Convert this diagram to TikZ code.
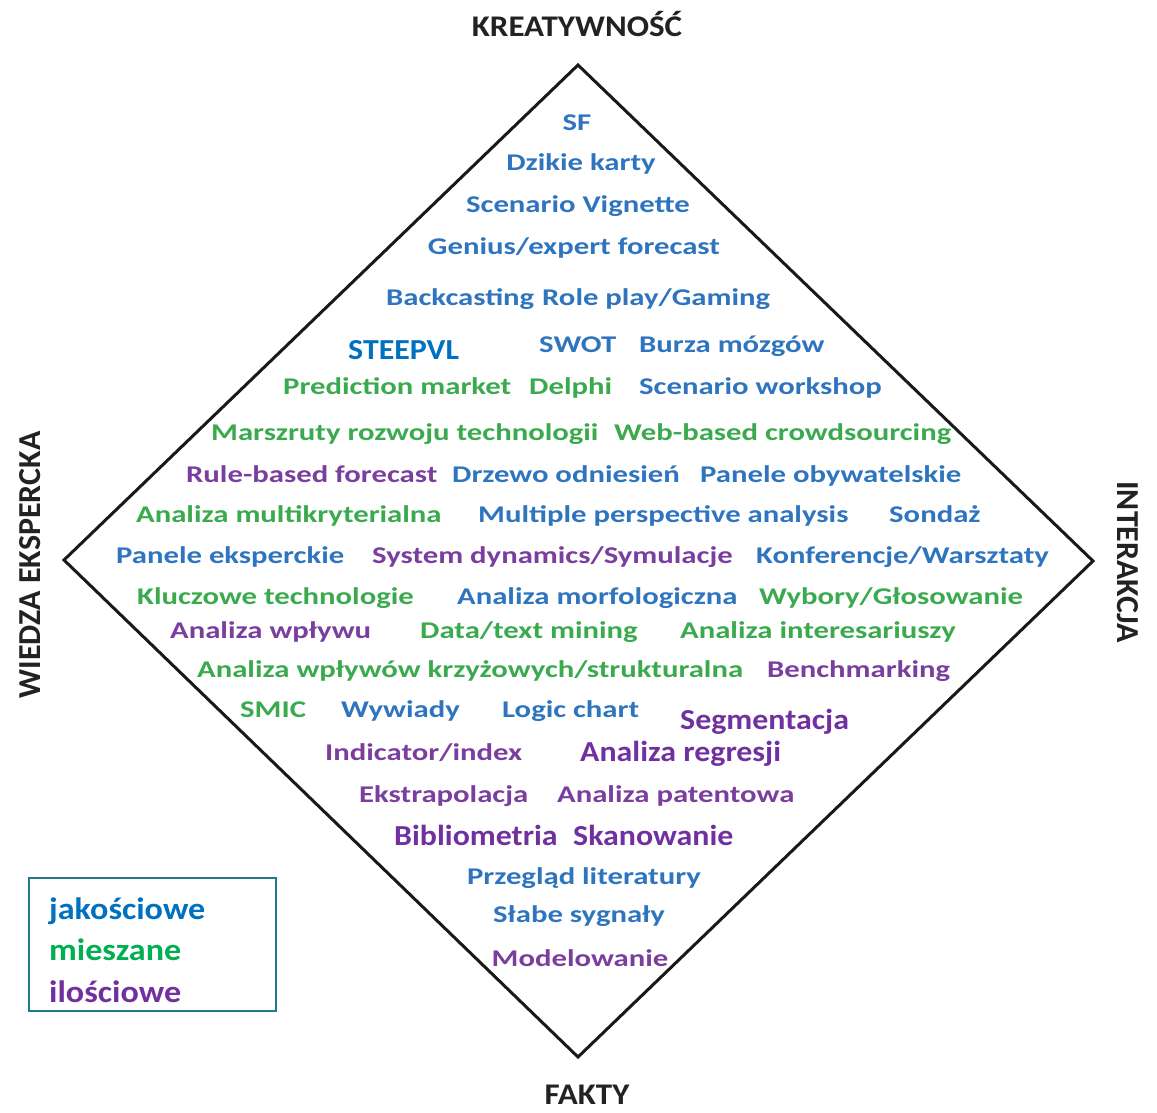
\documentclass[tikz,border=0pt]{standalone}
\usepackage{fontspec}
\setmainfont{Carlito}
% widened cuts of the same family for the different text groups
\newfontfamily\itemfont[FakeStretch=1.28]{Carlito}
\newfontfamily\strongfont[FakeStretch=1.1]{Carlito}
\newfontfamily\axisfont[FakeStretch=1.1]{Carlito}
\newfontfamily\legendfont[FakeStretch=1.1]{Carlito}
\definecolor{qualblue}{HTML}{2F74BE}
\definecolor{mixgreen}{HTML}{3BAA4E}
\definecolor{quantpurple}{HTML}{7A3E9E}
\definecolor{legblue}{HTML}{0070C0}
\definecolor{leggreen}{HTML}{00B050}
\definecolor{legpurple}{HTML}{7030A0}
\definecolor{legframe}{HTML}{1F7A8C}
\definecolor{axistext}{HTML}{222222}
\tikzset{
  item/.style={anchor=base west, inner sep=0pt, font=\itemfont\fontsize{24}{27}\selectfont\bfseries},
  citem/.style={item, anchor=base},
  qual/.style={text=qualblue},
  mix/.style={text=mixgreen},
  quant/.style={text=quantpurple},
  strongblue/.style={text=legblue, font=\strongfont\fontsize{29}{32}\selectfont\bfseries},
  strongpurple/.style={text=legpurple, font=\strongfont\fontsize{29}{32}\selectfont\bfseries},
  axis/.style={inner sep=0pt, text=axistext, font=\axisfont\fontsize{30}{33}\selectfont\bfseries},
  vaxis/.style={inner sep=0pt, text=axistext, font=\fontsize{32}{35}\selectfont\bfseries},
  legend/.style={anchor=base west, inner sep=0pt, font=\legendfont\fontsize{31}{34}\selectfont\bfseries},
}
\begin{document}
\begin{tikzpicture}[x=1pt, y=-1pt]
\useasboundingbox (0,0) rectangle (1157,1112);

% frame of the diamond
\coordinate (top) at (578,65);
\coordinate (right) at (1093,561);
\coordinate (bottom) at (578,1057);
\coordinate (left) at (64,560);
\draw[line width=3pt, line join=miter, black!90] (top) -- (right) -- (bottom) -- (left) -- cycle;

% axis labels
\node[axis] (kre) at (577,24) {KREATYWNOŚĆ};
\node[axis, anchor=base] (fak) at (587,1104) {FAKTY};
\node[vaxis, rotate=90] (wie) at (30,565) {WIEDZA EKSPERCKA};
\node[vaxis, rotate=-90] (int) at (1128,562) {INTERAKCJA};

% methods
\node[citem, qual] (sf) at (577,130) {SF};
\node[citem, qual] (dzk) at (581,170) {Dzikie karty};
\node[citem, qual] (vig) at (578,212) {Scenario Vignette};
\node[citem, qual] (gen) at (574,254) {Genius/expert forecast};

\node[item, qual] (bck) at (386,305) {Backcasting};
\node[item, qual] (rol) at (542,305) {Role play/Gaming};

\node[item, strongblue] (stp) at (348,359) {STEEPVL};
\node[item, qual] (swt) at (539,352) {SWOT};
\node[item, qual] (brz) at (639,352) {Burza mózgów};

\node[item, mix] (prd) at (283,394) {Prediction market};
\node[item, mix] (dlp) at (529,394) {Delphi};
\node[item, qual] (scw) at (639,394) {Scenario workshop};

\node[item, mix] (msz) at (211,440) {Marszruty rozwoju technologii};
\node[item, mix] (web) at (614,440) {Web-based crowdsourcing};

\node[item, quant] (rul) at (186,482) {Rule-based forecast};
\node[item, qual] (drz) at (452,482) {Drzewo odniesień};
\node[item, qual] (pob) at (700,482) {Panele obywatelskie};

\node[item, mix] (amk) at (136,522) {Analiza multikryterialna};
\node[item, qual] (mpa) at (478,522) {Multiple perspective analysis};
\node[item, qual] (snd) at (889,522) {Sondaż};

\node[item, qual] (pek) at (116,563) {Panele eksperckie};
\node[item, quant] (sds) at (372,563) {System dynamics/Symulacje};
\node[item, qual] (knf) at (756,563) {Konferencje/Warsztaty};

\node[item, mix] (klt) at (137,604) {Kluczowe technologie};
\node[item, qual] (amf) at (457,604) {Analiza morfologiczna};
\node[item, mix] (wyb) at (759,604) {Wybory/Głosowanie};

\node[item, quant] (awp) at (170,638) {Analiza wpływu};
\node[item, mix] (dtm) at (420,638) {Data/text mining};
\node[item, mix] (ain) at (680,638) {Analiza interesariuszy};

\node[item, mix] (awk) at (197,677) {Analiza wpływów krzyżowych/strukturalna};
\node[item, quant] (bnc) at (767,677) {Benchmarking};

\node[item, mix] (smc) at (240,717) {SMIC};
\node[item, qual] (wyw) at (341,717) {Wywiady};
\node[item, qual] (lgc) at (502,717) {Logic chart};
\node[item, strongpurple] (seg) at (680,729) {Segmentacja};

\node[item, quant] (ind) at (325,760) {Indicator/index};
\node[item, strongpurple] (arg) at (580,761) {Analiza regresji};

\node[item, quant] (eks) at (359,802) {Ekstrapolacja};
\node[item, quant] (apt) at (557,802) {Analiza patentowa};

\node[item, strongpurple] (bib) at (394,845) {Bibliometria};
\node[item, strongpurple] (skn) at (573,845) {Skanowanie};

\node[citem, qual] (prz) at (584,884) {Przegląd literatury};
\node[citem, qual] (slb) at (579,922) {Słabe sygnały};
\node[citem, quant] (mod) at (580,966) {Modelowanie};

% legend
\draw[legframe, line width=2.5pt] (29,878) rectangle (276,1011);
\node[legend, text=legblue] (ljk) at (49,919) {jakościowe};
\node[legend, text=leggreen] (lmi) at (49,960) {mieszane};
\node[legend, text=legpurple] (lil) at (49,1002) {ilościowe};
\end{tikzpicture}
\end{document}
